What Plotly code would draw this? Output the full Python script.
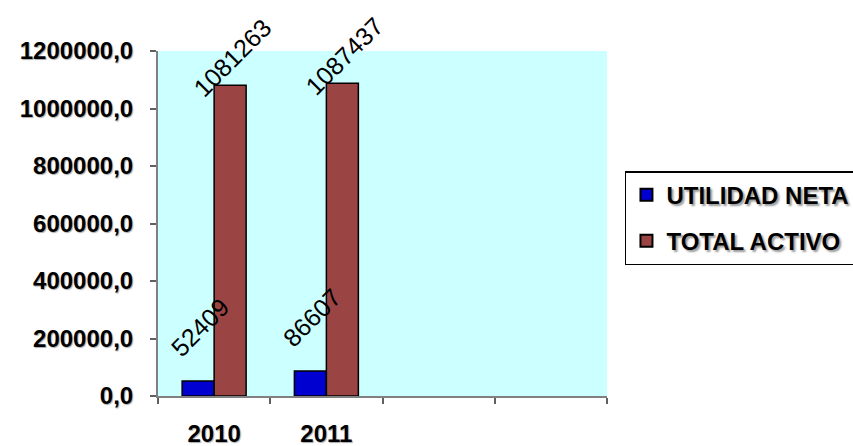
import plotly.graph_objects as go

categories = ["2010", "2011", " ", "  "]
utilidad_neta = [52409, 86607, None, None]
total_activo = [1081263, 1087437, None, None]
y_ticks = [0, 200000, 400000, 600000, 800000, 1000000, 1200000]

fig = go.Figure()
fig.add_trace(go.Bar(
    name="UTILIDAD NETA", x=categories, y=utilidad_neta, legendgroup="a",
    marker=dict(color="#0000d0", line=dict(color="black", width=1.5)),
))
fig.add_trace(go.Bar(
    name="TOTAL ACTIVO", x=categories, y=total_activo, legendgroup="b",
    marker=dict(color="#9a4444", line=dict(color="black", width=1.5)),
))

label_font = dict(family="Liberation Sans", size=25, color="black")
for series, xs, ys in ((utilidad_neta, -14, 54), (total_activo, 18, 27)):
    for i, val in enumerate(series):
        if val is None:
            continue
        fig.add_annotation(
            x=i, y=val, xref="x", yref="y", text=str(val), textangle=-45,
            showarrow=False, xanchor="center", yanchor="middle",
            xshift=xs, yshift=ys, font=label_font,
        )

tick_font = dict(family="Liberation Sans", size=24, color="black", weight="bold",
                 shadow="1px 1px 1px #aaa")

fig.update_layout(
    width=853, height=446,
    margin=dict(l=158, r=246, t=51, b=50, autoexpand=False),
    paper_bgcolor="white",
    plot_bgcolor="#ccffff",
    barmode="group", bargap=0.43, bargroupgap=0,
    separators=",.",
    font=dict(family="Liberation Sans", color="black"),
    showlegend=True,
    legend=dict(
        x=1.040, y=0.652, xanchor="left", yanchor="top",
        bordercolor="black", borderwidth=1.5, bgcolor="white",
        font=dict(family="Liberation Sans", size=24, color="black", weight="bold",
                  shadow="2px 2px 2px #999"),
        traceorder="grouped", tracegroupgap=12, itemsizing="constant",
    ),
)
fig.update_xaxes(
    type="category", categoryorder="array", categoryarray=categories,
    range=[-0.5, 3.5],
    showline=True, linecolor="#808080", linewidth=2,
    ticks="outside", ticklen=6, tickcolor="#606060", tickwidth=2,
    tickson="boundaries",
    tickfont=tick_font,
    ticklabelstandoff=15,
    showgrid=False, zeroline=False, automargin=False,
)
fig.update_yaxes(
    range=[0, 1200000], tickvals=y_ticks, tickformat=".1f",
    showline=True, linecolor="#808080", linewidth=2,
    ticks="outside", ticklen=6, tickcolor="#606060", tickwidth=2,
    tickfont=tick_font,
    ticklabelstandoff=12,
    showgrid=False, zeroline=False, automargin=False,
)

fig.write_html("out.html")
